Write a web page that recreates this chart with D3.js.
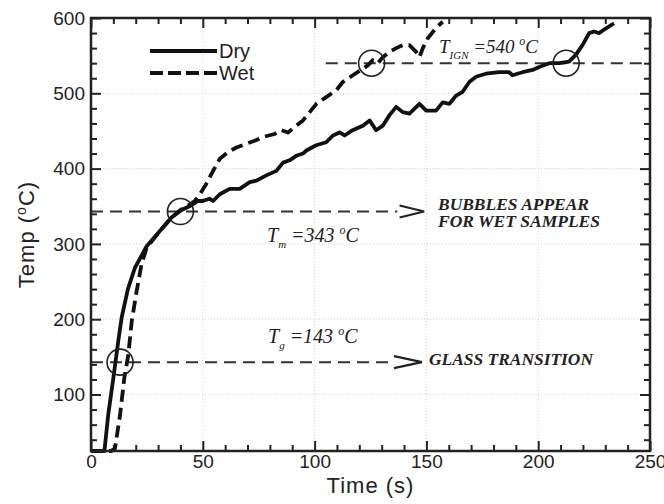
<!DOCTYPE html>
<html>
<head>
<meta charset="utf-8">
<script src="https://cdn.jsdelivr.net/npm/d3@7"></script>
<style>
  body { margin: 0; background: #fff; }
  svg { display: block; }
  .tick text { font-family: "Liberation Sans", Arial, sans-serif; font-size: 19px; fill: #222; }
  .ann { font-family: "Liberation Serif", "Times New Roman", serif; font-style: italic; fill: #222; }
</style>
</head>
<body>
<div id="chart"></div>
<script>
// Dry sample, time (s) / temperature (C)
const dryTime = [0, 6, 7.7, 10, 12.2, 13.7, 16.5, 19.6, 24.9, 30.8, 36, 40.5, 44, 47.9, 50, 53, 54.6, 57.6, 62, 66.5,
  71, 74, 78.4, 82.9, 85.9, 88.8, 91.8, 94.8, 96.3, 100.7, 105.2, 108.2, 111.2, 113.4, 117, 121.6, 124.6, 127.5, 130.5,
  133.5, 136.5, 139.4, 142.4, 146.9, 149.9, 154.3, 157.3, 160.3, 163.3, 166.2, 169.2, 172.2, 176.6, 182.6, 187, 188.5,
  193, 197.5, 200.4, 205, 209.4, 213.8, 216.8, 219.8, 222.8, 225, 227.2, 230.2, 233.9];
const dryTemp = [25, 25, 73, 122, 171, 202, 240, 268, 297, 317, 335, 345, 350, 357, 357, 360, 357, 366, 373, 373,
  382, 384, 391, 397, 408, 411, 417, 420, 424, 431, 435, 444, 448, 444, 451, 457, 464, 451, 457,
  471, 482, 475, 473, 486, 477, 477, 488, 486, 497, 502, 515, 522, 526, 528, 528, 524,
  528, 531, 535, 540, 540, 542, 551, 564, 580, 582, 580, 586, 593];

// Wet sample
const wetTime = [0, 9, 10.7, 13, 14.9, 16.7, 18.2, 20.4, 22.6, 24.9, 30.8, 36, 40, 43, 46.4, 48.7, 51.6, 54.6, 57.6,
  61.3, 65, 69.5, 73.2, 77, 82.1, 85.1, 88.1, 91.8, 94.8, 97.8, 100.8, 105.2, 109.7, 112.6, 117.1, 120.8, 123.8, 126,
  128.3, 130.5, 133.5, 136.5, 139.4, 142.4, 145.4, 146.9, 148.4, 150.6, 153.6, 155.8, 157.3];
const wetTemp = [25, 25, 28, 73, 122, 153, 197, 237, 273, 295, 317, 335, 345, 350, 357, 366, 380, 397, 413,
  422, 428, 433, 437, 442, 446, 451, 448, 457, 464, 475, 486, 495, 504, 515, 524, 531, 537, 544,
  540, 548, 555, 560, 564, 564, 555, 548, 560, 573, 584, 591, 595];

// circled points
const markTime = [13, 40, 125.5, 212.5];
const markTemp = [143, 343, 540, 540];

// reference temperatures
const refName = ["g", "m", "IGN"];
const refTemp = [143, 343, 540];

const xTicks = [0, 50, 100, 150, 200, 250];
const yTicks = [100, 200, 300, 400, 500, 600];

const width = 664, height = 504;
const margin = {top: 18, right: 14, bottom: 53, left: 91};

const svg = d3.select("#chart").append("svg")
  .attr("width", width)
  .attr("height", height);

const x = d3.scaleLinear().domain([0, 250]).range([margin.left, width - margin.right]);
const y = d3.scaleLinear().domain([25, 600]).range([height - margin.bottom, margin.top]);

const x0 = x.range()[0], x1 = x.range()[1];
const y0 = y.range()[0], y1 = y.range()[1];

// faint grid
const grid = svg.append("g").attr("stroke", "#d4d4d4").attr("stroke-width", 1).attr("stroke-dasharray", "1,2");
grid.selectAll(".gx").data(xTicks.slice(1, -1)).enter().append("line")
  .attr("x1", d => x(d)).attr("x2", d => x(d)).attr("y1", y0).attr("y2", y1);
grid.selectAll(".gy").data(yTicks.slice(0, -1)).enter().append("line")
  .attr("x1", x0).attr("x2", x1).attr("y1", d => y(d)).attr("y2", d => y(d));

// axes, ticks pointing inward on all four sides
const minorX = d3.range(10, 250, 10).filter(d => d % 50 != 0);
const minorY = d3.range(40, 600, 20).filter(d => d % 100 != 0);

function styleAxis(g) {
  g.select(".domain").remove();
  g.selectAll(".tick line").attr("stroke", "#222").attr("stroke-width", 2);
}

svg.append("g").attr("transform", `translate(0,${y0})`)
  .call(d3.axisBottom(x).tickValues(xTicks).tickSize(-10).tickPadding(6))
  .call(styleAxis)
  .selectAll("text").attr("dy", "0.71em").attr("y", 4);
svg.append("g").attr("transform", `translate(0,${y0})`)
  .call(d3.axisBottom(x).tickValues(minorX).tickSize(-6).tickFormat(""))
  .call(styleAxis);
svg.append("g").attr("transform", `translate(0,${y1})`)
  .call(d3.axisTop(x).tickValues(xTicks).tickSize(-10).tickFormat(""))
  .call(styleAxis);
svg.append("g").attr("transform", `translate(0,${y1})`)
  .call(d3.axisTop(x).tickValues(minorX).tickSize(-6).tickFormat(""))
  .call(styleAxis);

svg.append("g").attr("transform", `translate(${x0},0)`)
  .call(d3.axisLeft(y).tickValues(yTicks).tickSize(-10).tickPadding(7))
  .call(styleAxis)
  .selectAll("text").attr("x", -6);
svg.append("g").attr("transform", `translate(${x0},0)`)
  .call(d3.axisLeft(y).tickValues(minorY).tickSize(-6).tickFormat(""))
  .call(styleAxis);
svg.append("g").attr("transform", `translate(${x1},0)`)
  .call(d3.axisRight(y).tickValues(yTicks).tickSize(-10).tickFormat(""))
  .call(styleAxis);
svg.append("g").attr("transform", `translate(${x1},0)`)
  .call(d3.axisRight(y).tickValues(minorY).tickSize(-6).tickFormat(""))
  .call(styleAxis);

// axis titles
svg.append("text")
  .attr("x", (x0 + x1) / 2).attr("y", 493)
  .attr("text-anchor", "middle")
  .style("font-family", "Liberation Sans, Arial, sans-serif")
  .style("font-size", "22px").style("letter-spacing", "1px").attr("fill", "#222")
  .text("Time (s)");

const yl = svg.append("text")
  .attr("transform", `translate(34,${(y0 + y1) / 2}) rotate(-90)`)
  .attr("text-anchor", "middle")
  .style("font-family", "Liberation Sans, Arial, sans-serif")
  .style("font-size", "22px").style("letter-spacing", "1px").attr("fill", "#222");
yl.append("tspan").text("Temp (");
yl.append("tspan").attr("dy", -8).style("font-size", "14px").text("o");
yl.append("tspan").attr("dy", 8).text("C)");

// reference lines
const refStart = [0, 0, 105];
const refEnd = [134.5, 137, 250];
const refs = svg.append("g").attr("stroke", "#333").attr("stroke-width", 2).attr("fill", "none");
refTemp.forEach((t, i) => {
  refs.append("line")
    .attr("x1", x(refStart[i])).attr("x2", x(refEnd[i]))
    .attr("y1", y(t)).attr("y2", y(t))
    .attr("stroke-dasharray", "12,7");
});

// open arrow heads
const arrowFrom = [135.5, 138];
const arrowTo = [148, 149];
arrowFrom.forEach((a, i) => {
  const yy = y(refTemp[i]);
  refs.append("path")
    .attr("d", `M${x(a)},${yy - 6}L${x(arrowTo[i])},${yy}L${x(a)},${yy + 6}`)
    .attr("stroke", "#222").attr("stroke-width", 2.2);
});

// curves
const line = d3.line().x(d => x(d[0])).y(d => y(d[1])).curve(d3.curveLinear);
const dry = d3.zip(dryTime, dryTemp);
const wet = d3.zip(wetTime, wetTemp);

svg.append("path").datum(wet)
  .attr("d", line).attr("fill", "none")
  .attr("stroke", "#111").attr("stroke-width", 3.8)
  .attr("stroke-dasharray", "12,6").attr("stroke-linejoin", "round");
svg.append("path").datum(dry)
  .attr("d", line).attr("fill", "none")
  .attr("stroke", "#111").attr("stroke-width", 3.8)
  .attr("stroke-linejoin", "round");

// circles
svg.selectAll(".mark").data(d3.zip(markTime, markTemp)).enter().append("circle")
  .attr("cx", d => x(d[0])).attr("cy", d => y(d[1])).attr("r", 13)
  .attr("fill", "none").attr("stroke", "#222").attr("stroke-width", 1.6);

// legend
const legend = svg.append("g");
legend.append("line").attr("x1", 150).attr("x2", 217).attr("y1", 51).attr("y2", 51)
  .attr("stroke", "#111").attr("stroke-width", 3.8);
legend.append("line").attr("x1", 150).attr("x2", 217).attr("y1", 73).attr("y2", 73)
  .attr("stroke", "#111").attr("stroke-width", 3.8).attr("stroke-dasharray", "13,5");
legend.selectAll("text").data(["Dry", "Wet"]).enter().append("text")
  .attr("x", 219).attr("y", (d, i) => 58 + i * 22)
  .style("font-family", "Liberation Sans, Arial, sans-serif")
  .style("font-size", "20px").attr("fill", "#222")
  .text(d => d);

// temperature labels
const labelPos = [[268, 343], [267, 242], [439, 53]];
const labelSize = [20, 20, 19];
refTemp.forEach((t, i) => {
  const tx = svg.append("text").attr("class", "ann")
    .attr("x", labelPos[i][0]).attr("y", labelPos[i][1])
    .style("font-size", labelSize[i] + "px");
  tx.append("tspan").text("T");
  tx.append("tspan").attr("dy", 6).style("font-size", "11px").text(refName[i]);
  tx.append("tspan").attr("dy", -6).text(" =" + t + " ");
  tx.append("tspan").attr("dy", -8).style("font-size", "12px").text("o");
  tx.append("tspan").attr("dy", 8).text("C");
});

// notes
const notes = [["BUBBLES APPEAR", 438, 210, 151], ["FOR WET SAMPLES", 438, 227, 162], ["GLASS TRANSITION", 429, 365, 164]];
svg.selectAll(".note").data(notes).enter().append("text")
  .attr("class", "ann")
  .attr("x", d => d[1]).attr("y", d => d[2])
  .attr("textLength", d => d[3]).attr("lengthAdjust", "spacingAndGlyphs")
  .style("font-size", "16px").style("font-weight", "bold")
  .text(d => d[0]);

// frame
svg.append("rect")
  .attr("x", x0).attr("y", y1).attr("width", x1 - x0).attr("height", y0 - y1)
  .attr("fill", "none").attr("stroke", "#222").attr("stroke-width", 2.5);
</script>
</body>
</html>
